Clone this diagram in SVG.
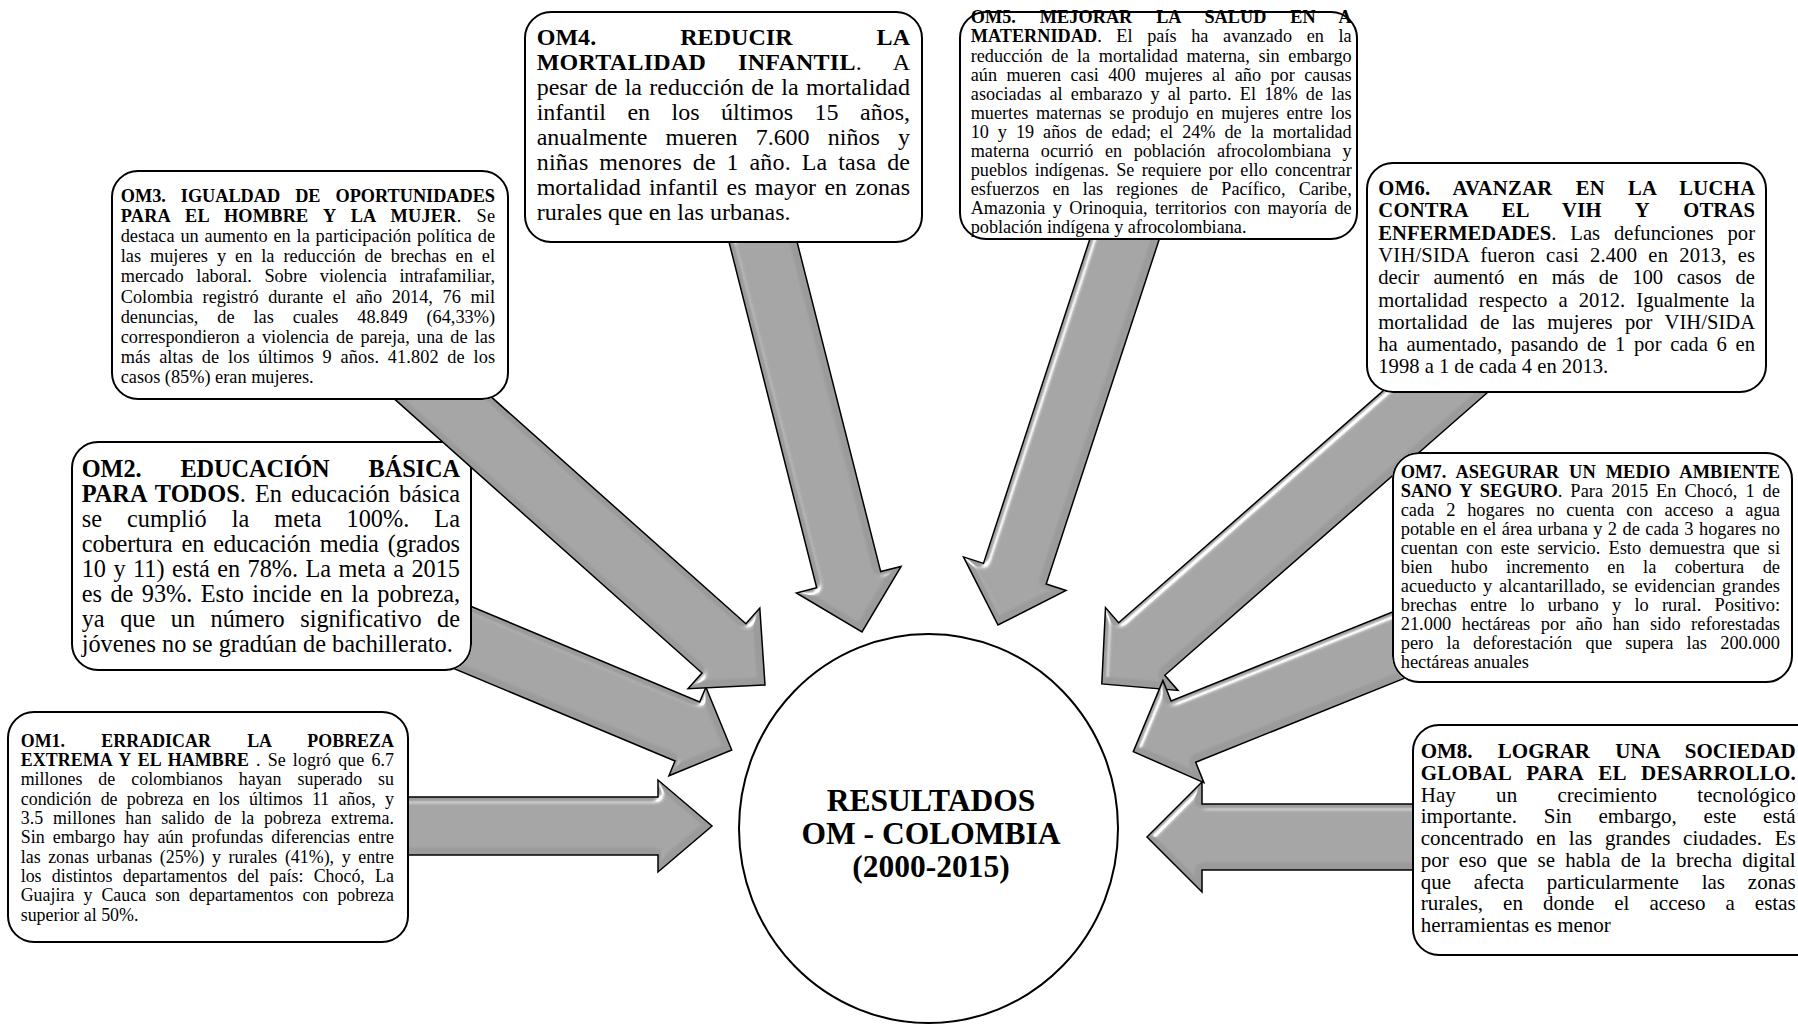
<svg xmlns="http://www.w3.org/2000/svg" width="1798" height="1024" viewBox="0 0 1798 1024">
<style>
.box{fill:#fff;stroke:#000;stroke-width:2}
.af{fill:#9b9b9b;stroke:none}
.as{fill:none;stroke:#000;stroke-width:1.5;stroke-linejoin:miter}
text{font-family:"Liberation Serif","Times New Roman",serif;fill:#000}
.b{font-weight:bold}
.f1{font-size:17.9px}
.f2{font-size:24.3px}
.f3{font-size:18.3px}
.f4{font-size:24px}
.f5{font-size:18.2px}
.f6{font-size:20.6px}
.f7{font-size:18.4px}
.f8{font-size:21px}
.c{font-size:31.5px;font-weight:bold;text-anchor:middle}
</style>
<defs>
<filter id="bevel" x="-10%" y="-10%" width="120%" height="120%">
<feGaussianBlur in="SourceAlpha" stdDeviation="3" result="bl"/>
<feSpecularLighting in="bl" surfaceScale="5" specularConstant="1" specularExponent="30" lighting-color="#ffffff" result="sp">
<feDistantLight azimuth="225" elevation="40"/>
</feSpecularLighting>
<feComposite in="sp" in2="SourceAlpha" operator="in" result="si"/>
<feComposite in="SourceGraphic" in2="si" operator="arithmetic" k1="0" k2="1" k3="1" k4="0"/>
</filter>
<clipPath id="k1"><path clip-rule="evenodd" d="M-20,-20H1900V1044H-20Z M34,711 H382 A27,27 0 0 1 409,738 V916 A27,27 0 0 1 382,943 H34 A27,27 0 0 1 7,916 V738 A27,27 0 0 1 34,711 Z"/></clipPath>
<clipPath id="k2"><path clip-rule="evenodd" d="M-20,-20H1900V1044H-20Z M98,441 H445 A27,27 0 0 1 472,468 V644 A27,27 0 0 1 445,671 H98 A27,27 0 0 1 71,644 V468 A27,27 0 0 1 98,441 Z"/></clipPath>
<clipPath id="k3"><path clip-rule="evenodd" d="M-20,-20H1900V1044H-20Z M138,170 H482 A27,27 0 0 1 509,197 V373 A27,27 0 0 1 482,400 H138 A27,27 0 0 1 111,373 V197 A27,27 0 0 1 138,170 Z"/></clipPath>
<clipPath id="k4"><path clip-rule="evenodd" d="M-20,-20H1900V1044H-20Z M551,11 H896 A27,27 0 0 1 923,38 V216 A27,27 0 0 1 896,243 H551 A27,27 0 0 1 524,216 V38 A27,27 0 0 1 551,11 Z"/></clipPath>
<clipPath id="k5"><path clip-rule="evenodd" d="M-20,-20H1900V1044H-20Z M986,11 H1331 A27,27 0 0 1 1358,38 V213 A27,27 0 0 1 1331,240 H986 A27,27 0 0 1 959,213 V38 A27,27 0 0 1 986,11 Z"/></clipPath>
<clipPath id="k6"><path clip-rule="evenodd" d="M-20,-20H1900V1044H-20Z M1393,162 H1740 A27,27 0 0 1 1767,189 V366 A27,27 0 0 1 1740,393 H1393 A27,27 0 0 1 1366,366 V189 A27,27 0 0 1 1393,162 Z M1419,452 H1766 A27,27 0 0 1 1793,479 V656 A27,27 0 0 1 1766,683 H1419 A27,27 0 0 1 1392,656 V479 A27,27 0 0 1 1419,452 Z"/></clipPath>
<clipPath id="k7"><path clip-rule="evenodd" d="M-20,-20H1900V1044H-20Z M1419,452 H1766 A27,27 0 0 1 1793,479 V656 A27,27 0 0 1 1766,683 H1419 A27,27 0 0 1 1392,656 V479 A27,27 0 0 1 1419,452 Z"/></clipPath>
<clipPath id="k8"><path clip-rule="evenodd" d="M-20,-20H1900V1044H-20Z M1439,724 H1807 A27,27 0 0 1 1834,751 V929 A27,27 0 0 1 1807,956 H1439 A27,27 0 0 1 1412,929 V751 A27,27 0 0 1 1439,724 Z"/></clipPath>
</defs>
<rect width="1798" height="1024" fill="#fff"/>

<g id="center">
<ellipse cx="928.5" cy="828.5" rx="189.5" ry="194.5" fill="#fff" stroke="#000" stroke-width="2"/>
<text class="c" x="931" y="811">RESULTADOS</text>
<text class="c" x="931" y="844">OM - COLOMBIA</text>
<text class="c" x="931" y="877">(2000-2015)</text>
</g>

<g id="om1">
<rect class="box" x="8" y="712" width="400" height="230" rx="26"/>
<text class="f1 b" x="20.7" y="746.7" textLength="373.3" lengthAdjust="spacing" style="word-spacing:31.6px">OM1. ERRADICAR LA POBREZA</text>
<text class="f1" x="20.7" y="766" textLength="373.3" lengthAdjust="spacing" style="word-spacing:2.5px"><tspan class="b">EXTREMA Y EL HAMBRE</tspan> . Se logró que 6.7</text>
<text class="f1" x="20.7" y="785.3" textLength="373.3" lengthAdjust="spacing" style="word-spacing:11.5px">millones de colombianos hayan superado su</text>
<text class="f1" x="20.7" y="804.7" textLength="373.3" lengthAdjust="spacing" style="word-spacing:4.7px">condición de pobreza en los últimos 11 años, y</text>
<text class="f1" x="20.7" y="824" textLength="373.3" lengthAdjust="spacing" style="word-spacing:5.1px">3.5 millones han salido de la pobreza extrema.</text>
<text class="f1" x="20.7" y="843.3" textLength="373.3" lengthAdjust="spacing" style="word-spacing:3.7px">Sin embargo hay aún profundas diferencias entre</text>
<text class="f1" x="20.7" y="862.7" textLength="373.3" lengthAdjust="spacing" style="word-spacing:3.1px">las zonas urbanas (25%) y rurales (41%), y entre</text>
<text class="f1" x="20.7" y="882" textLength="373.3" lengthAdjust="spacing" style="word-spacing:5.8px">los distintos departamentos del país: Chocó, La</text>
<text class="f1" x="20.7" y="901.3" textLength="373.3" lengthAdjust="spacing" style="word-spacing:4.6px">Guajira y Cauca son departamentos con pobreza</text>
<text class="f1" x="20.7" y="920.7">superior al 50%.</text>
</g>

<g id="om2">
<rect class="box" x="72" y="442" width="399" height="228" rx="26"/>
<text class="f2 b" x="81.7" y="476.7" textLength="378.3" lengthAdjust="spacing" style="word-spacing:33px">OM2. EDUCACIÓN BÁSICA</text>
<text class="f2" x="81.7" y="501.7" textLength="378.3" lengthAdjust="spacing" style="word-spacing:3px"><tspan class="b">PARA TODOS</tspan>. En educación básica</text>
<text class="f2" x="81.7" y="526.7" textLength="378.3" lengthAdjust="spacing" style="word-spacing:19px">se cumplió la meta 100%. La</text>
<text class="f2" x="81.7" y="551.7" textLength="378.3" lengthAdjust="spacing" style="word-spacing:3px">cobertura en educación media (grados</text>
<text class="f2" x="81.7" y="576.7" textLength="378.3" lengthAdjust="spacing" style="word-spacing:1.5px">10 y 11) está en 78%. La meta a 2015</text>
<text class="f2" x="81.7" y="601.7" textLength="378.3" lengthAdjust="spacing" style="word-spacing:2.5px">es de 93%. Esto incide en la pobreza,</text>
<text class="f2" x="81.7" y="626.7" textLength="378.3" lengthAdjust="spacing" style="word-spacing:9.5px">ya que un número significativo de</text>
<text class="f2" x="81.7" y="651.7">jóvenes no se gradúan de bachillerato.</text>
</g>

<g id="om3">
<rect class="box" x="112" y="171" width="396" height="228" rx="26"/>
<text class="f3 b" x="120.7" y="201.7" textLength="374.3" lengthAdjust="spacing" style="word-spacing:10.5px">OM3. IGUALDAD DE OPORTUNIDADES</text>
<text class="f3" x="120.7" y="221.9" textLength="374.3" lengthAdjust="spacing" style="word-spacing:10.3px"><tspan class="b">PARA EL HOMBRE Y LA MUJER</tspan>. Se</text>
<text class="f3" x="120.7" y="242" textLength="374.3" lengthAdjust="spacing" style="word-spacing:1.3px">destaca un aumento en la participación política de</text>
<text class="f3" x="120.7" y="262.2" textLength="374.3" lengthAdjust="spacing" style="word-spacing:4.4px">las mujeres y en la reducción de brechas en el</text>
<text class="f3" x="120.7" y="282.4" textLength="374.3" lengthAdjust="spacing" style="word-spacing:8px">mercado laboral. Sobre violencia intrafamiliar,</text>
<text class="f3" x="120.7" y="302.5" textLength="374.3" lengthAdjust="spacing" style="word-spacing:5.1px">Colombia registró durante el año 2014, 76 mil</text>
<text class="f3" x="120.7" y="322.7" textLength="374.3" lengthAdjust="spacing" style="word-spacing:14.3px">denuncias, de las cuales 48.849 (64,33%)</text>
<text class="f3" x="120.7" y="342.9" textLength="374.3" lengthAdjust="spacing" style="word-spacing:2.5px">correspondieron a violencia de pareja, una de las</text>
<text class="f3" x="120.7" y="363.1" textLength="374.3" lengthAdjust="spacing" style="word-spacing:4px">más altas de los últimos 9 años. 41.802 de los</text>
<text class="f3" x="120.7" y="383.2">casos (85%) eran mujeres.</text>
</g>

<g id="om4">
<rect class="box" x="525" y="12" width="397" height="230" rx="26"/>
<text class="f4 b" x="536.7" y="45.3" textLength="373.3" lengthAdjust="spacing" style="word-spacing:78px">OM4. REDUCIR LA</text>
<text class="f4" x="536.7" y="70.3" textLength="373.3" lengthAdjust="spacing" style="word-spacing:25.7px"><tspan class="b">MORTALIDAD INFANTIL</tspan>. A</text>
<text class="f4" x="536.7" y="95.3" textLength="373.3" lengthAdjust="spacing" style="word-spacing:1.3px">pesar de la reducción de la mortalidad</text>
<text class="f4" x="536.7" y="120.3" textLength="373.3" lengthAdjust="spacing" style="word-spacing:15.5px">infantil en los últimos 15 años,</text>
<text class="f4" x="536.7" y="145.3" textLength="373.3" lengthAdjust="spacing" style="word-spacing:12.2px">anualmente mueren 7.600 niños y</text>
<text class="f4" x="536.7" y="170.3" textLength="373.3" lengthAdjust="spacing" style="word-spacing:4.5px">niñas menores de 1 año. La tasa de</text>
<text class="f4" x="536.7" y="195.3" textLength="373.3" lengthAdjust="spacing" style="word-spacing:2.3px">mortalidad infantil es mayor en zonas</text>
<text class="f4" x="536.7" y="220.3">rurales que en las urbanas.</text>
</g>

<g id="om5">
<rect class="box" x="960" y="12" width="397" height="227" rx="26"/>
<text class="f5 b" x="970.7" y="23.3" textLength="381" lengthAdjust="spacing" style="word-spacing:19.2px">OM5. MEJORAR LA SALUD EN A</text>
<text class="f5" x="970.7" y="42.4" textLength="381" lengthAdjust="spacing" style="word-spacing:10px"><tspan class="b">MATERNIDAD</tspan>. El país ha avanzado en la</text>
<text class="f5" x="970.7" y="61.5" textLength="381" lengthAdjust="spacing" style="word-spacing:4.1px">reducción de la mortalidad materna, sin embargo</text>
<text class="f5" x="970.7" y="80.6" textLength="381" lengthAdjust="spacing" style="word-spacing:4.9px">aún mueren casi 400 mujeres al año por causas</text>
<text class="f5" x="970.7" y="99.7" textLength="381" lengthAdjust="spacing" style="word-spacing:3.4px">asociadas al embarazo y al parto. El 18% de las</text>
<text class="f5" x="970.7" y="118.8" textLength="381" lengthAdjust="spacing" style="word-spacing:3.1px">muertes maternas se produjo en mujeres entre los</text>
<text class="f5" x="970.7" y="137.9" textLength="381" lengthAdjust="spacing" style="word-spacing:4.4px">10 y 19 años de edad; el 24% de la mortalidad</text>
<text class="f5" x="970.7" y="157" textLength="381" lengthAdjust="spacing" style="word-spacing:7px">materna ocurrió en población afrocolombiana y</text>
<text class="f5" x="970.7" y="176.1" textLength="381" lengthAdjust="spacing" style="word-spacing:2.8px">pueblos indígenas. Se requiere por ello concentrar</text>
<text class="f5" x="970.7" y="195.2" textLength="381" lengthAdjust="spacing" style="word-spacing:8.6px">esfuerzos en las regiones de Pacífico, Caribe,</text>
<text class="f5" x="970.7" y="214.3" textLength="381" lengthAdjust="spacing" style="word-spacing:2.8px">Amazonia y Orinoquia, territorios con mayoría de</text>
<text class="f5" x="970.7" y="233.4">población indígena y afrocolombiana.</text>
</g>

<g id="om6">
<rect class="box" x="1367" y="163" width="399" height="229" rx="26"/>
<text class="f6 b" x="1378.3" y="195" textLength="376.7" lengthAdjust="spacing" style="word-spacing:17.6px">OM6. AVANZAR EN LA LUCHA</text>
<text class="f6 b" x="1378.3" y="217.3" textLength="376.7" lengthAdjust="spacing" style="word-spacing:28.6px">CONTRA EL VIH Y OTRAS</text>
<text class="f6" x="1378.3" y="239.6" textLength="376.7" lengthAdjust="spacing" style="word-spacing:8.8px"><tspan class="b">ENFERMEDADES</tspan>. Las defunciones por</text>
<text class="f6" x="1378.3" y="261.9" textLength="376.7" lengthAdjust="spacing" style="word-spacing:5.8px">VIH/SIDA fueron casi 2.400 en 2013, es</text>
<text class="f6" x="1378.3" y="284.2" textLength="376.7" lengthAdjust="spacing" style="word-spacing:8.8px">decir aumentó en más de 100 casos de</text>
<text class="f6" x="1378.3" y="306.5" textLength="376.7" lengthAdjust="spacing" style="word-spacing:6px">mortalidad respecto a 2012. Igualmente la</text>
<text class="f6" x="1378.3" y="328.8" textLength="376.7" lengthAdjust="spacing" style="word-spacing:7.3px">mortalidad de las mujeres por VIH/SIDA</text>
<text class="f6" x="1378.3" y="351.1" textLength="376.7" lengthAdjust="spacing" style="word-spacing:3.5px">ha aumentado, pasando de 1 por cada 6 en</text>
<text class="f6" x="1378.3" y="373.4">1998 a 1 de cada 4 en 2013.</text>
</g>

<g id="om7">
<rect class="box" x="1393" y="453" width="399" height="229" rx="26"/>
<text class="f7 b" x="1400.7" y="478.3" textLength="379.3" lengthAdjust="spacing" style="word-spacing:5.3px">OM7. ASEGURAR UN MEDIO AMBIENTE</text>
<text class="f7" x="1400.7" y="497.3" textLength="379.3" lengthAdjust="spacing" style="word-spacing:3.3px"><tspan class="b">SANO Y SEGURO</tspan>. Para 2015 En Chocó, 1 de</text>
<text class="f7" x="1400.7" y="516.3" textLength="379.3" lengthAdjust="spacing" style="word-spacing:7.2px">cada 2 hogares no cuenta con acceso a agua</text>
<text class="f7" x="1400.7" y="535.3" textLength="379.3" lengthAdjust="spacing" style="word-spacing:0.8px">potable en el área urbana y 2 de cada 3 hogares no</text>
<text class="f7" x="1400.7" y="554.3" textLength="379.3" lengthAdjust="spacing" style="word-spacing:3.5px">cuentan con este servicio. Esto demuestra que si</text>
<text class="f7" x="1400.7" y="573.3" textLength="379.3" lengthAdjust="spacing" style="word-spacing:13.8px">bien hubo incremento en la cobertura de</text>
<text class="f7" x="1400.7" y="592.3" textLength="379.3" lengthAdjust="spacing" style="word-spacing:2px">acueducto y alcantarillado, se evidencian grandes</text>
<text class="f7" x="1400.7" y="611.3" textLength="379.3" lengthAdjust="spacing" style="word-spacing:8.6px">brechas entre lo urbano y lo rural. Positivo:</text>
<text class="f7" x="1400.7" y="630.3" textLength="379.3" lengthAdjust="spacing" style="word-spacing:5.9px">21.000 hectáreas por año han sido reforestadas</text>
<text class="f7" x="1400.7" y="649.3" textLength="379.3" lengthAdjust="spacing" style="word-spacing:8.6px">pero la deforestación que supera las 200.000</text>
<text class="f7" x="1400.7" y="668.3">hectáreas anuales</text>
</g>

<g id="om8">
<rect class="box" x="1413" y="725" width="420" height="230" rx="26"/>
<text class="f8 b" x="1420.7" y="758.3" textLength="375" lengthAdjust="spacing" style="word-spacing:20px">OM8. LOGRAR UNA SOCIEDAD</text>
<text class="f8 b" x="1420.7" y="780" textLength="375" lengthAdjust="spacing" style="word-spacing:10px">GLOBAL PARA EL DESARROLLO.</text>
<text class="f8" x="1420.7" y="801.7" textLength="375" lengthAdjust="spacing" style="word-spacing:35px">Hay un crecimiento tecnológico</text>
<text class="f8" x="1420.7" y="823.4" textLength="375" lengthAdjust="spacing" style="word-spacing:21.5px">importante. Sin embargo, este está</text>
<text class="f8" x="1420.7" y="845.1" textLength="375" lengthAdjust="spacing" style="word-spacing:7.5px">concentrado en las grandes ciudades. Es</text>
<text class="f8" x="1420.7" y="866.8" textLength="375" lengthAdjust="spacing" style="word-spacing:5px">por eso que se habla de la brecha digital</text>
<text class="f8" x="1420.7" y="888.5" textLength="375" lengthAdjust="spacing" style="word-spacing:17.5px">que afecta particularmente las zonas</text>
<text class="f8" x="1420.7" y="910.2" textLength="375" lengthAdjust="spacing" style="word-spacing:14.8px">rurales, en donde el acceso a estas</text>
<text class="f8" x="1420.7" y="931.9">herramientas es menor</text>
</g>

<g id="connectors">
<g clip-path="url(#k1)"><polygon class="af" filter="url(#bevel)" points="380,855 658,855 658,872 712,826 658,780 658,797 380,797"/><polygon class="as" points="380,855 658,855 658,872 712,826 658,780 658,797 380,797"/></g>
<g clip-path="url(#k2)"><polygon class="af" filter="url(#bevel)" points="370.6,633.7 675,761 668.9,775.8 731.7,750 705.9,687.2 699.7,702 395.3,574.7"/><polygon class="as" points="370.6,633.7 675,761 668.9,775.8 731.7,750 705.9,687.2 699.7,702 395.3,574.7"/></g>
<g clip-path="url(#k3)"><polygon class="af" filter="url(#bevel)" points="388.4,393.6 702,673 688,688.7 765,685 759.8,608.1 745.9,623.8 432.3,344.4"/><polygon class="as" points="388.4,393.6 702,673 688,688.7 765,685 759.8,608.1 745.9,623.8 432.3,344.4"/></g>
<g clip-path="url(#k4)"><polygon class="af" filter="url(#bevel)" points="728,238.1 816.7,587.8 796.4,593 862,632 901.1,566.4 880.7,571.6 792,221.9"/><polygon class="as" points="728,238.1 816.7,587.8 796.4,593 862,632 901.1,566.4 880.7,571.6 792,221.9"/></g>
<g clip-path="url(#k5)"><polygon class="af" filter="url(#bevel)" points="1163,227.8 1046.2,584 1066.1,590.5 998,625 963.5,556.9 983.5,563.4 1100.3,207.2"/><polygon class="as" points="1163,227.8 1046.2,584 1066.1,590.5 998,625 963.5,556.9 983.5,563.4 1100.3,207.2"/></g>
<g clip-path="url(#k6)"><polygon class="af" filter="url(#bevel)" points="1503.2,378.7 1164.8,675.3 1178,690.4 1101.8,683.9 1105.5,607.6 1118.6,622.7 1457,326.1"/><polygon class="as" points="1503.2,378.7 1164.8,675.3 1178,690.4 1101.8,683.9 1105.5,607.6 1118.6,622.7 1457,326.1"/></g>
<g clip-path="url(#k7)"><polygon class="af" filter="url(#bevel)" points="1427.7,668.9 1195.7,762.2 1203.9,782.6 1133.3,751.7 1162.9,680.6 1171.1,701 1403.1,607.7"/><polygon class="as" points="1427.7,668.9 1195.7,762.2 1203.9,782.6 1133.3,751.7 1162.9,680.6 1171.1,701 1403.1,607.7"/></g>
<g clip-path="url(#k8)"><polygon class="af" filter="url(#bevel)" points="1440,804 1202,804 1202,782 1147,837 1202,892 1202,870 1440,870"/><polygon class="as" points="1440,804 1202,804 1202,782 1147,837 1202,892 1202,870 1440,870"/></g>
</g>
</svg>
